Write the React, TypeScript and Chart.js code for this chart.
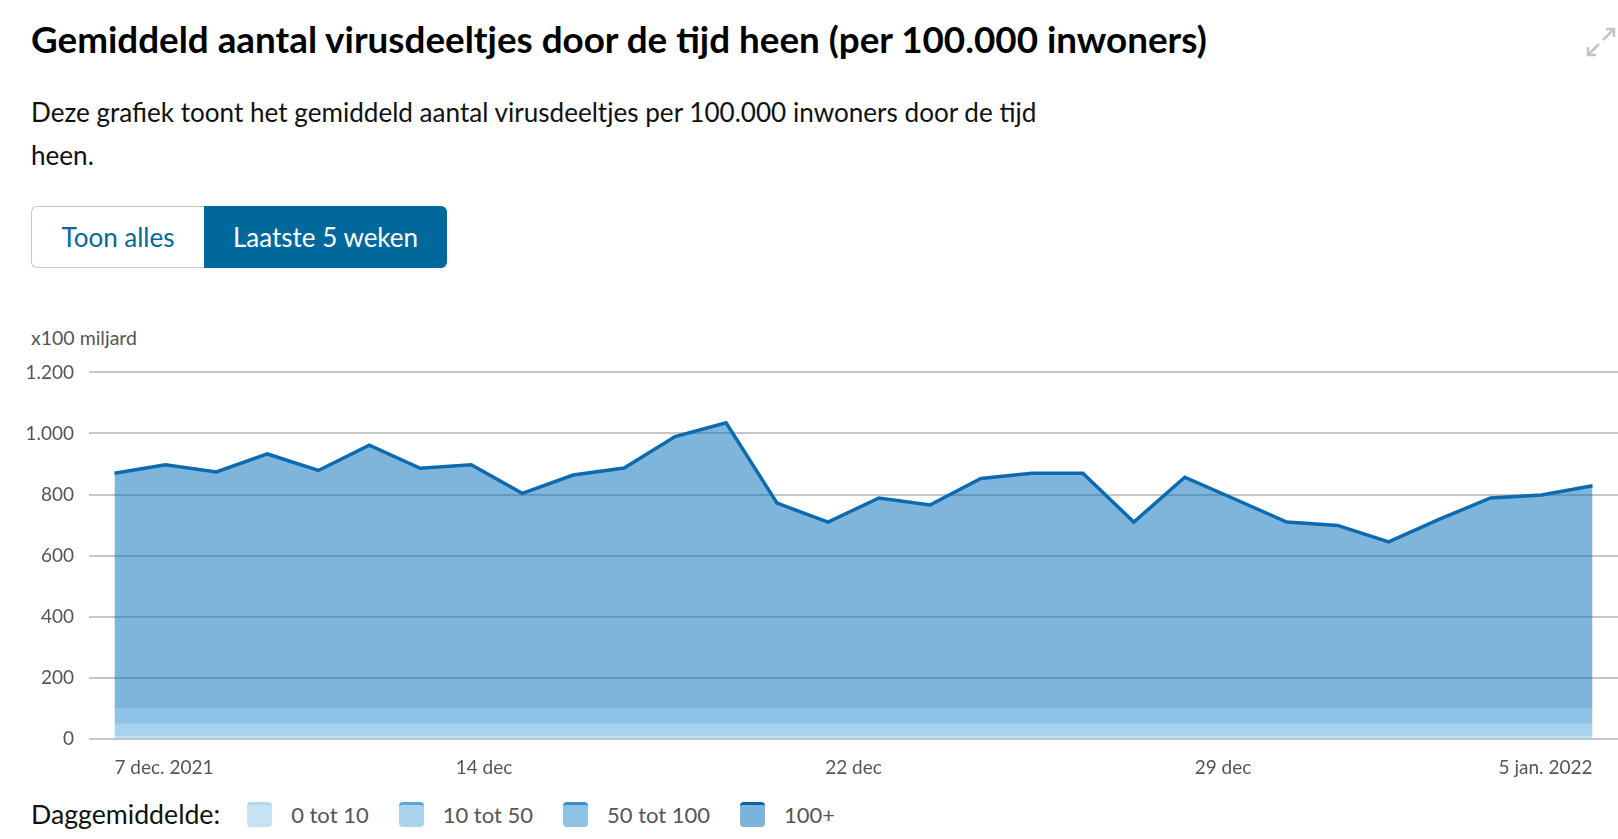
import React, { useEffect, useRef } from "react";
import { Chart, registerables } from "chart.js";

Chart.register(...registerables);

// ---- data ----
const DAYS = [
  "7 dec", "8 dec", "9 dec", "10 dec", "11 dec", "12 dec", "13 dec", "14 dec", "15 dec", "16 dec",
  "17 dec", "18 dec", "19 dec", "20 dec", "21 dec", "22 dec", "23 dec", "24 dec", "25 dec", "26 dec",
  "27 dec", "28 dec", "29 dec", "30 dec", "31 dec", "1 jan", "2 jan", "3 jan", "4 jan", "5 jan",
];
const VALUES = [
  870, 898, 874, 933, 879, 962, 886, 898, 804, 864,
  887, 990, 1035, 772, 710, 789, 766, 853, 870, 870,
  710, 857, 784, 710, 699, 645, 720, 789, 799, 829,
];
const X_TICK_POS = [0, 7.25, 14.5, 21.75, 29];
const X_TICK_LABELS = ["7 dec. 2021", "14 dec", "22 dec", "29 dec", "5 jan. 2022"];
const Y_MIN = 0;
const Y_MAX = 1200;
const Y_STEP = 200;
const BAND_LIMITS = [10, 50, 100, Infinity];
const BAND_LABELS = ["0 tot 10", "10 tot 50", "50 tot 100", "100+"];

// ---- styles ----
const BAND_FILL = [
  "rgba(139,199,233,0.5)",
  "rgba(81,167,221,0.5)",
  "rgba(29,135,205,0.5)",
  "rgba(0,107,181,0.5)",
];
const SWATCH_FILL = ["#c6e2f3", "#a9d3ef", "#8ec3e6", "#7cb3dc"];
const SWATCH_EDGE = ["#b3d8ef", "#5ea4d8", "#3a8bcc", "#0a66a8"];
const LINE_COLOR = "#0b6ab0";
const FONT = "Lato, 'Noto Sans', sans-serif";

function fmtNL(v: number): string {
  return String(v).replace(/\B(?=(\d{3})+(?!\d))/g, ".");
}

function ChartCanvas() {
  const ref = useRef<HTMLCanvasElement | null>(null);
  useEffect(() => {
    if (!ref.current) return;
    const datasets = BAND_LIMITS.map((hi, b) => ({
      label: BAND_LABELS[b],
      data: VALUES.map((v, i) => ({ x: i, y: Math.min(v, hi) })),
      fill: b === 0 ? "origin" : "-1",
      backgroundColor: BAND_FILL[b],
      borderColor: b === BAND_LIMITS.length - 1 ? LINE_COLOR : "rgba(0,0,0,0)",
      borderWidth: b === BAND_LIMITS.length - 1 ? 3.5 : 0,
      pointRadius: 0,
      tension: 0,
    }));
    const chart = new Chart(ref.current, {
      type: "line",
      data: { labels: DAYS, datasets },
      options: {
        animation: false,
        responsive: true,
        maintainAspectRatio: false,
        layout: { padding: { top: 0, right: 0, bottom: 0, left: 0 } },
        plugins: { legend: { display: false }, tooltip: { enabled: false } },
        scales: {
          x: {
            type: "linear",
            min: -0.5,
            max: DAYS.length - 0.5,
            grid: { display: false },
            border: { display: false },
            afterBuildTicks: (axis: any) => {
              axis.ticks = X_TICK_POS.map((v) => ({ value: v }));
            },
            afterFit: (axis: any) => {
              axis.height = 51;
            },
            ticks: {
              align: "inner",
              autoSkip: false,
              maxRotation: 0,
              padding: 9,
              color: "#555",
              font: { family: FONT, size: 19 },
              callback: (_v: any, i: number) => X_TICK_LABELS[i],
            },
          },
          y: {
            min: Y_MIN,
            max: Y_MAX,
            grid: { color: "#c6c6c6", lineWidth: 2, drawTicks: false },
            border: { display: false },
            afterFit: (axis: any) => {
              axis.width = 89;
            },
            ticks: {
              stepSize: Y_STEP,
              padding: 15,
              color: "#555",
              font: { family: FONT, size: 19 },
              callback: (v: any) => fmtNL(Number(v)),
            },
          },
        },
      },
    } as any);
    return () => chart.destroy();
  }, []);
  return <canvas ref={ref} />;
}

export default function App() {
  return (
    <div
      style={{
        position: "absolute",
        left: 0,
        top: 0,
        width: 1618,
        height: 839,
        background: "#fff",
        fontFamily: FONT,
        overflow: "hidden",
      }}
    >
      <div
        style={{
          position: "absolute",
          left: 31,
          top: 19,
          fontSize: 36.8,
          lineHeight: "40px",
          fontWeight: 700,
          color: "#000",
          whiteSpace: "nowrap",
        }}
      >
        Gemiddeld aantal virusdeeltjes door de tijd heen (per 100.000 inwoners)
      </div>
      <svg
        style={{ position: "absolute", left: 1586, top: 27 }}
        width={30}
        height={30}
        viewBox="0 0 30 30"
      >
        <g stroke="#c4c4c4" strokeWidth={2.5} fill="none">
          <path d="M17 13 L28 2" />
          <path d="M20 2 L28 2 L28 10" />
          <path d="M13 17 L2 28" />
          <path d="M2 20 L2 28 L10 28" />
        </g>
      </svg>
      <div
        style={{
          position: "absolute",
          left: 31,
          top: 91,
          fontSize: 26.1,
          lineHeight: "43px",
          color: "#111",
          whiteSpace: "nowrap",
        }}
      >
        Deze grafiek toont het gemiddeld aantal virusdeeltjes per 100.000 inwoners door de tijd
        <br />
        heen.
      </div>
      <div
        style={{
          position: "absolute",
          left: 31,
          top: 206,
          height: 62,
          display: "flex",
          fontSize: 26,
        }}
      >
        <div
          style={{
            width: 173,
            boxSizing: "border-box",
            border: "1px solid #c8c8c8",
            borderRight: "none",
            borderRadius: "6px 0 0 6px",
            color: "#01689b",
            display: "flex",
            alignItems: "center",
            justifyContent: "center",
          }}
        >
          Toon alles
        </div>
        <div
          style={{
            width: 243,
            background: "#01689b",
            borderRadius: "0 6px 6px 0",
            color: "#fff",
            display: "flex",
            alignItems: "center",
            justifyContent: "center",
          }}
        >
          Laatste 5 weken
        </div>
      </div>
      <div
        style={{
          position: "absolute",
          left: 31,
          top: 326,
          fontSize: 19.5,
          lineHeight: "24px",
          color: "#555",
        }}
      >
        x100 miljard
      </div>
      <div style={{ position: "absolute", left: 0, top: 346, width: 1618, height: 444 }}>
        <ChartCanvas />
      </div>
      <div
        style={{
          position: "absolute",
          left: 31,
          top: 794,
          height: 40,
          display: "flex",
          alignItems: "center",
        }}
      >
        <span style={{ fontSize: 26.7, color: "#111", marginRight: 27 }}>Daggemiddelde:</span>
        {BAND_LABELS.map((lab, i) => (
          <div key={lab} style={{ display: "flex", alignItems: "center", marginRight: 30 }}>
            <span
              style={{
                width: 25,
                height: 25,
                boxSizing: "border-box",
                background: SWATCH_FILL[i],
                borderTop: `3px solid ${SWATCH_EDGE[i]}`,
                borderRadius: 4,
                marginRight: 19,
                display: "inline-block",
              }}
            />
            <span style={{ fontSize: 22, color: "#555" }}>{lab}</span>
          </div>
        ))}
      </div>
    </div>
  );
}
